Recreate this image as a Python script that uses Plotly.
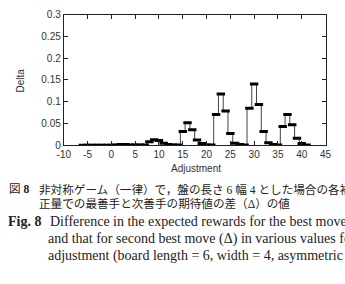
import plotly.graph_objects as go

# ---- data ----
adjustment = list(range(-6, 42))
delta = [
    0, 0, 0, 0, 0, 0, 0,                                  # -6..0
    0.001, 0.002, 0.002, 0.001, 0.001, 0.0005, 0.0005,     # 1..7
    0.008, 0.013, 0.011, 0.005, 0.002, 0.001, 0.0005,      # 8..14
    0.032, 0.052, 0.036, 0.012, 0.004, 0.001, 0.0005,      # 15..21
    0.071, 0.118, 0.079, 0.027, 0.005, 0.002, 0.0005,      # 22..28
    0.085, 0.141, 0.094, 0.032, 0.006, 0.002, 0.0005,      # 29..35
    0.043, 0.071, 0.047, 0.016, 0.004, 0.001,              # 36..41
]
x_ticks = [-10, -5, 0, 5, 10, 15, 20, 25, 30, 35, 40, 45]
y_ticks = [0, 0.05, 0.1, 0.15, 0.2, 0.25, 0.3]

caption_jp = ["非対称ゲーム（一律）で，盤の長さ 6 幅 4 とした場合の各補",
              "正量での最善手と次善手の期待値の差（Δ）の値"]
caption_en = ["Difference in the expected rewards for the best move",
              "and that for second best move (Δ) in various values for",
              "adjustment (board length = 6, width = 4, asymmetric"]

# ---- layout geometry (pixels) ----
W, H = 345, 284
PL, PR, PT, PB = 59, 331, 10, 146   # plot frame edges


def pxx(x):
    return x / W


def pxy(y):
    return 1 - y / H


# histeps: extend half a step on both ends
xs = [adjustment[0] - 0.5] + adjustment + [adjustment[-1] + 0.5]
ys = [delta[0]] + delta + [delta[-1]]

fig = go.Figure()
fig.add_trace(go.Scatter(x=xs, y=ys, mode="lines", line=dict(shape="hvh", color="#444", width=1),
                         showlegend=False, hoverinfo="skip"))
fig.add_trace(go.Scatter(x=adjustment, y=delta, mode="markers",
                         marker=dict(symbol="line-ew", size=6, line=dict(color="black", width=3)),
                         showlegend=False))

axis_common = dict(showline=True, mirror="ticks", linecolor="#222", linewidth=1,
                   ticks="inside", ticklen=4, tickcolor="#222", showgrid=False, zeroline=False,
                   tickfont=dict(family="Liberation Sans, Arial, sans-serif", size=10, color="#333"))

fig.update_layout(
    xaxis=dict(domain=[PL / W, PR / W], range=[-10, 45], tickvals=x_ticks,
               ticktext=[str(v) for v in x_ticks], **axis_common),
    yaxis=dict(domain=[(H - PB) / H, (H - PT) / H], range=[0, 0.3], tickvals=y_ticks,
               ticktext=[("%g" % v) for v in y_ticks], **axis_common),
)

jp_font = dict(family="Liberation Serif, Noto Sans CJK JP", size=11.6, color="#222")
en_font = dict(family="Liberation Serif, DejaVu Serif, serif", size=14, color="#222")
sans = dict(family="Liberation Sans, Arial, sans-serif", size=10, color="#333")

ann = [
    dict(text="Adjustment", x=pxx(196), y=pxy(170), xanchor="center", font=sans),
    dict(text="Delta", x=pxx(15), y=pxy(78), xanchor="center", font=sans, textangle=-90),
    dict(text="図 <b>8</b>", x=pxx(0), y=pxy(192), xanchor="left", font=jp_font),
    dict(text="Fig. 8", x=pxx(-1), y=pxy(225), xanchor="left", font=dict(en_font, weight="bold")),
]
for line, yy in zip(caption_jp, [192, 207]):
    ann.append(dict(text=line, x=pxx(31), y=pxy(yy), xanchor="left", font=jp_font))
for line, xx, yy in zip(caption_en, [43, 41, 41], [225, 243, 261]):
    ann.append(dict(text=line, x=pxx(xx), y=pxy(yy), xanchor="left", font=en_font))
for a in ann:
    a.update(xref="paper", yref="paper", yanchor="middle", showarrow=False, align="left")

fig.update_layout(width=W, height=H, margin=dict(l=0, r=0, t=0, b=0),
                  plot_bgcolor="white", paper_bgcolor="white", annotations=ann)

fig.write_html("out.html")
